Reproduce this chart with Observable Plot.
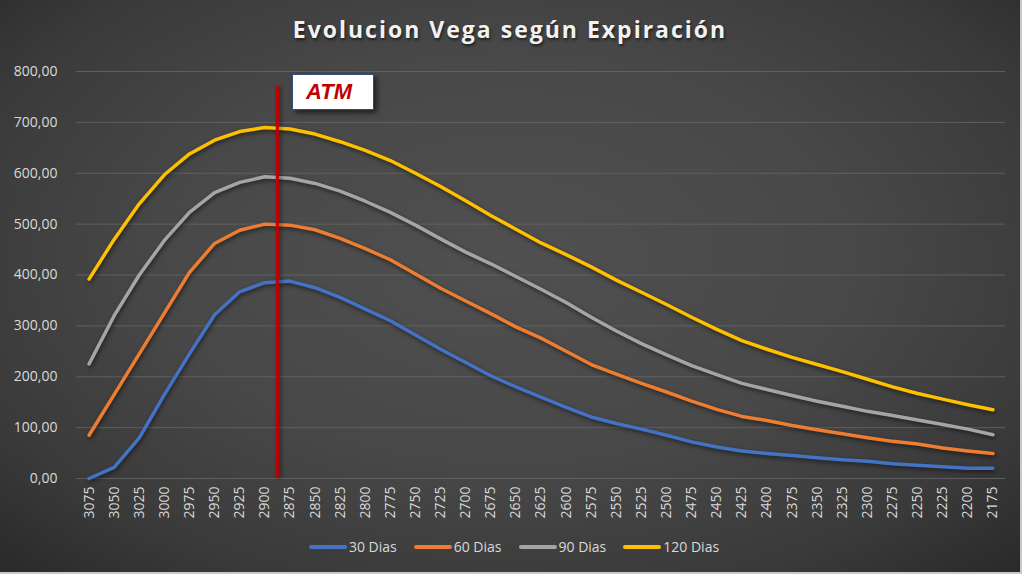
<!DOCTYPE html>
<html>
<head>
<meta charset="utf-8">
<script src="https://cdn.jsdelivr.net/npm/d3@7"></script>
<script src="https://cdn.jsdelivr.net/npm/@observablehq/plot@0.6"></script>
<style>
  html, body { margin: 0; padding: 0; background: #ffffff; }
  #chart {
    position: relative; width: 1020px; height: 572px; overflow: hidden;
    background: radial-gradient(ellipse 75% 80% at 50% 45%, #505050 0%, #484848 45%, #3a3a3a 75%, #262626 100%);
    border-right: 2px solid #c8c8c8; border-bottom: 2px solid #c8c8c8;
    font-family: "Open Sans", sans-serif;
  }
  #title {
    position: absolute; left: 0; top: 13px; width: 1020px; text-align: center;
    color: #f2f2f2; font-weight: bold; font-size: 23px; letter-spacing: 2px;
    text-shadow: 1px 2px 3px rgba(0,0,0,0.6);
  }
  #plot { position: absolute; left: 0; top: 60px; }
  #atm {
    position: absolute; left: 292px; top: 74px; width: 80px; height: 34px;
    background: #ffffff; border: 1px solid #2f4f7f;
    box-shadow: 3px 3px 5px rgba(0,0,0,0.55);
  }
  #atm span {
    position: absolute; left: 13px; top: 4px;
    font-family: "Liberation Sans", Arial, sans-serif; font-weight: bold; font-style: italic;
    font-size: 22px; color: #c00000;
  }
  #legend {
    position: absolute; left: 4px; top: 537px; width: 1020px;
    display: flex; justify-content: center; gap: 17px;
    color: #d9d9d9; font-size: 14px;
  }
  .item { display: flex; align-items: center; }
  .sw { width: 38px; height: 4px; border-radius: 2px; margin-right: 2px; }
</style>
</head>
<body>
<div id="chart">
  <div id="title">Evolucion Vega según Expiración</div>
  <div id="plot"></div>
  <div id="atm"><span>ATM</span></div>
  <div id="legend"></div>
</div>
<script>
const strikes = [3075,3050,3025,3000,2975,2950,2925,2900,2875,2850,2825,2800,2775,2750,2725,2700,2675,2650,2625,2600,2575,2550,2525,2500,2475,2450,2425,2400,2375,2350,2325,2300,2275,2250,2225,2200,2175];
const dias30  = [0,22,80,165,245,322,367,385,388,375,356,333,310,282,254,228,202,180,160,140,121,108,97,85,72,62,54,49,45,41,37,34,29,26,23,20,20];
const dias60  = [85,165,245,325,405,462,488,500,498,489,472,452,430,402,374,349,324,298,276,250,224,205,187,170,152,136,122,114,104,96,88,80,73,68,60,54,49];
const dias90  = [225,320,400,468,523,562,582,593,590,580,565,545,523,498,471,445,422,397,372,346,317,290,265,243,222,204,187,175,163,152,142,132,124,115,106,97,86];
const dias120 = [392,470,540,597,638,665,682,690,687,677,662,645,625,600,574,546,517,490,463,440,416,390,366,342,317,293,271,254,238,224,210,195,180,167,156,145,135];
const seriesNames = ["30 Dias","60 Dias","90 Dias","120 Dias"];
const seriesColors = ["#4472C4","#ED7D31","#A5A5A5","#FFC000"];
const yTicks = [0,100,200,300,400,500,600,700,800];
const atmStrike = [2887.5];
const atmTop = 770;

const allSeries = [dias30, dias60, dias90, dias120];
const data = [];
allSeries.forEach((vals, si) => vals.forEach((v, i) => data.push({strike: strikes[i], vega: v, series: seriesNames[si]})));

const chart = Plot.plot({
  width: 1020,
  height: 470,
  marginLeft: 76,
  marginRight: 15,
  marginTop: 11,
  marginBottom: 52,
  style: {background: "transparent", color: "#d9d9d9", fontSize: "14px", fontFamily: "'Open Sans', sans-serif"},
  x: {type: "linear", domain: [3087.5, 2162.5], ticks: strikes, tickFormat: d => String(d), tickRotate: -90, tickSize: 0, tickPadding: 8, label: null},
  y: {domain: [0, 800], ticks: yTicks, tickFormat: d => d.toFixed(2).replace(".", ","), tickSize: 0, tickPadding: 19, label: null},
  color: {domain: seriesNames, range: seriesColors},
  marks: [
    Plot.gridY(yTicks, {stroke: "#666666", strokeOpacity: 0.8, strokeWidth: 1}),
    Plot.line(data, {x: "strike", y: "vega", stroke: "series", strokeWidth: 3.5, strokeLinecap: "round", strokeLinejoin: "round"}),
    Plot.ruleX(atmStrike, {y1: 0, y2: atmTop, stroke: "#c00000", strokeWidth: 3})
  ]
});
d3.select(chart).selectAll("g[aria-label='line'] path").style("filter", "drop-shadow(1px 2px 2px rgba(0,0,0,0.55))");
d3.select(chart).selectAll("g[aria-label='rule']").style("filter", "drop-shadow(2px 1px 2px rgba(0,0,0,0.5))");
document.getElementById("plot").appendChild(chart);

const legend = document.getElementById("legend");
seriesNames.forEach((n, i) => {
  const it = document.createElement("div"); it.className = "item";
  const sw = document.createElement("div"); sw.className = "sw"; sw.style.background = seriesColors[i];
  const tx = document.createElement("span"); tx.textContent = n;
  it.appendChild(sw); it.appendChild(tx); legend.appendChild(it);
});
</script>
</body>
</html>
